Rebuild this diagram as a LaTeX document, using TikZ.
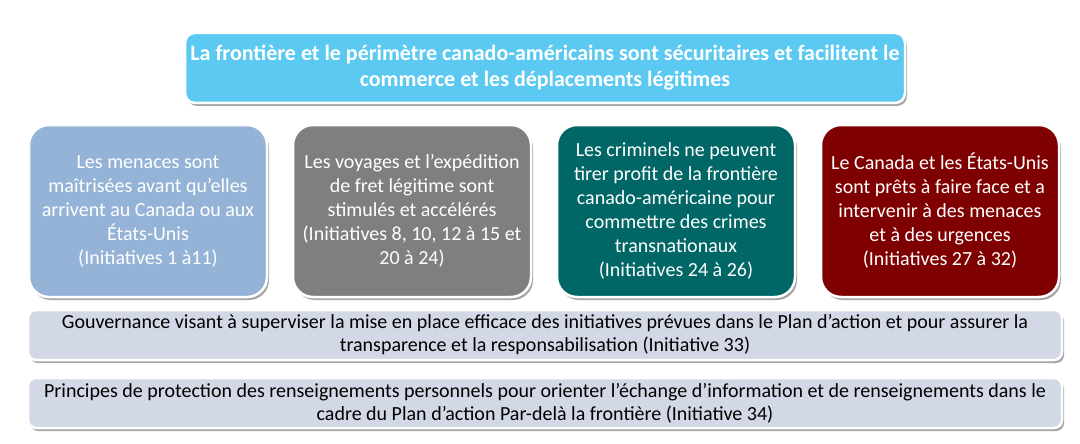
\documentclass[tikz,border=0pt]{standalone}
\usepackage{fontspec}
\setmainfont{Carlito}
\usetikzlibrary{shadows}
\definecolor{topblue}{HTML}{5BC9F2}
\definecolor{boxblue}{HTML}{95B3D7}
\definecolor{boxgray}{HTML}{7F7F7F}
\definecolor{boxteal}{HTML}{006766}
\definecolor{boxred}{HTML}{7F0000}
\definecolor{barfill}{HTML}{D3D8E6}
\begin{document}
\begin{tikzpicture}[x=1pt,y=-1pt,
  shadowed/.style={drop shadow={shadow xshift=2pt,shadow yshift=-3pt,opacity=0.5,fill=black!70}},
  goalbox/.style={shadowed, draw=white, line width=2.5pt, rounded corners=20pt, text=white, align=center,
    font=\fontsize{20}{24}\selectfont, minimum width=238pt, minimum height=172pt, inner sep=0pt},
  topbox/.style={shadowed, draw=white, line width=2.5pt, rounded corners=10pt, fill=topblue, text=white, align=center,
    font=\bfseries\fontsize{22}{26}\selectfont, minimum width=720pt, minimum height=70pt, inner sep=0pt},
  barbox/.style={shadowed, draw=white, line width=2.5pt, rounded corners=8pt, fill=barfill, text=black, align=center,
    font=\fontsize{20}{23}\selectfont, minimum width=1034pt, minimum height=50pt, inner sep=0pt}
]
\useasboundingbox (0,0) rectangle (1080,444);
\fill[white] (0,0) rectangle (1080,444);

\node[topbox] (top) at (545,68) {La frontière et le périmètre canado-américains sont sécuritaires et facilitent le\\commerce et les déplacements légitimes};

\node[goalbox, fill=boxblue] (g1) at (148,211) {Les menaces sont\\maîtrisées avant qu’elles\\arrivent au Canada ou aux\\États-Unis\\(Initiatives 1 à11)};
\node[goalbox, fill=boxgray] (g2) at (412,211) {Les voyages et l’expédition\\de fret légitime sont\\stimulés et accélérés\\(Initiatives 8, 10, 12 à 15 et\\20 à 24)};
\node[goalbox, fill=boxteal] (g3) at (676,211) {Les criminels ne peuvent\\tirer profit de la frontière\\canado-américaine pour\\commettre des crimes\\transnationaux\\(Initiatives 24 à 26)};
\node[goalbox, fill=boxred] (g4) at (940,211) {Le Canada et les États-Unis\\sont prêts à faire face et a\\intervenir à des menaces\\et à des urgences\\(Initiatives 27 à 32)};

\node[barbox] (b1) at (545,335) {Gouvernance visant à superviser la mise en place efficace des initiatives prévues dans le Plan d’action et pour assurer la\\transparence et la responsabilisation (Initiative 33)};
\node[barbox] (b2) at (545,403) {Principes de protection des renseignements personnels pour orienter l’échange d’information et de renseignements dans le\\cadre du Plan d’action Par-delà la frontière (Initiative 34)};
\end{tikzpicture}
\end{document}
